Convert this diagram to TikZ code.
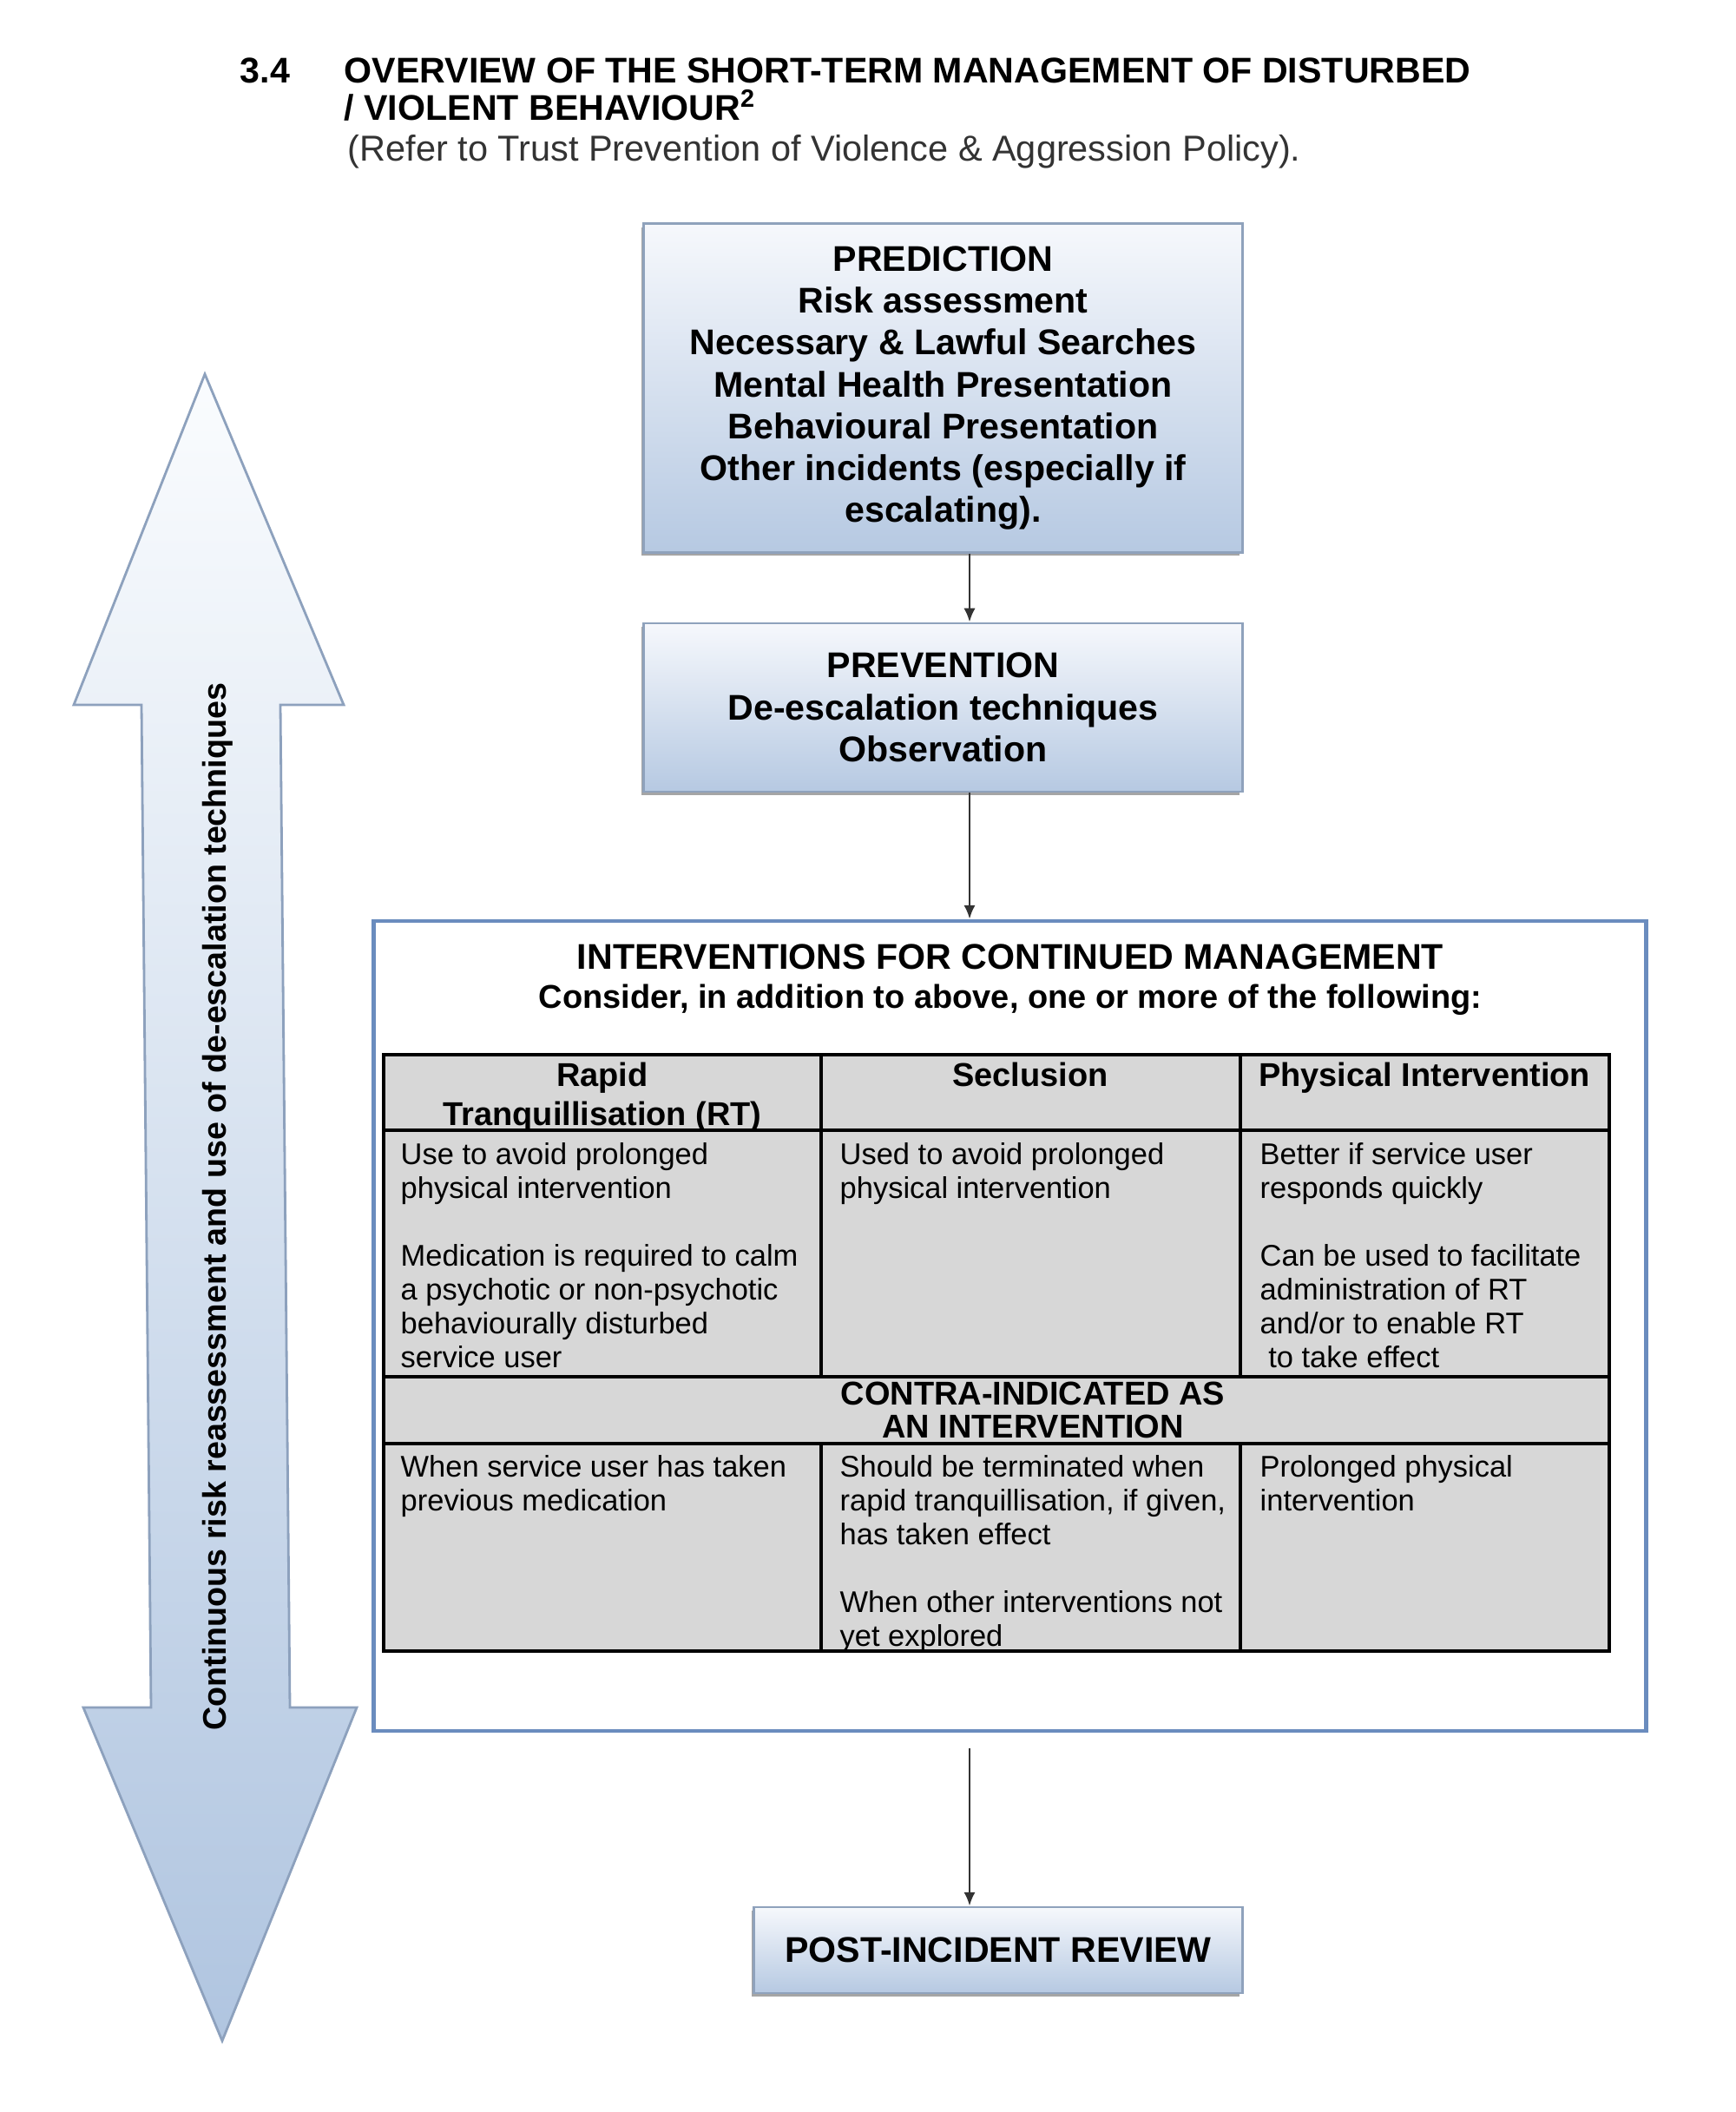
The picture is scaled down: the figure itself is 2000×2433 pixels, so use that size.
\documentclass[tikz,border=0pt]{standalone}
\usepackage{fontspec}
\setmainfont{Liberation Sans}
\usepackage{tikz}
\usetikzlibrary{arrows.meta,shadows}
\definecolor{boxedge}{HTML}{8FA2BC}
\definecolor{boxtop}{HTML}{F6F8FC}
\definecolor{boxbot}{HTML}{B6C9E2}
\definecolor{intedge}{HTML}{6A8CBE}
\definecolor{cellgray}{HTML}{D7D7D7}
\definecolor{arrowedge}{HTML}{8DA1BD}
\definecolor{arrowtop}{HTML}{FAFCFE}
\definecolor{arrowbot}{HTML}{B0C5E0}
\tikzset{
  flowbox/.style={draw=boxedge, line width=0.8pt, top color=boxtop, bottom color=boxbot,
    align=center, inner sep=0pt, font=\fontsize{11.7}{13.7}\selectfont\bfseries,
    drop shadow={shadow xshift=-0.8pt, shadow yshift=-1.2pt, fill=black!50, opacity=0.7}},
  flowarrow/.style={-{Latex[length=4.5pt,width=3.8pt]}, line width=0.7pt, black!80},
  titletext/.style={inner sep=0pt, align=left, font=\fontsize{11.7}{12.2}\selectfont\bfseries},
  headtext/.style={anchor=north, align=center, inner sep=0pt, font=\fontsize{10.8}{12.8}\selectfont\bfseries},
  celltext/.style={anchor=north west, align=left, inner sep=0pt, font=\fontsize{9.8}{11.1}\selectfont},
  gridline/.style={line width=1.1pt, black}
}

\begin{document}
\begin{tikzpicture}[x=0.01cm,y=-0.01cm]
    \path[use as bounding box, fill=white] (0,0) rectangle (2000,2433);
    % heading
    \node[titletext, anchor=west] (secnum) at (276,81) {3.4};
    \node[titletext, anchor=north west] (heading) at (396,66) {OVERVIEW OF THE SHORT-TERM MANAGEMENT OF DISTURBED\\/ VIOLENT BEHAVIOUR\textsuperscript{2}};
    \node[anchor=west, inner sep=0pt, font=\fontsize{11.8}{14}\selectfont, text=black!80] (refer) at (400,175) {(Refer to Trust Prevention of Violence \& Aggression Policy).};

    % side arrow
    \shadedraw[top color=arrowtop, bottom color=arrowbot, draw=arrowedge, line width=0.8pt]
      (236,431) -- (396,812) -- (323,812) -- (334,1967) -- (411,1967) -- (256,2351)
      -- (96,1967) -- (174,1967) -- (163,812) -- (85,812) -- cycle;
    \node[rotate=90, inner sep=0pt, font=\fontsize{10.7}{12}\selectfont\bfseries] (loop) at (251,1390) {Continuous risk reassessment and use of de-escalation techniques};

    % flow boxes
    \coordinate (spine) at (1117,0);
    \node[flowbox, minimum width=6.89cm, minimum height=3.78cm] (predict) at (1086.5,447)
      {PREDICTION\\Risk assessment\\Necessary \& Lawful Searches\\Mental Health Presentation\\Behavioural Presentation\\Other incidents (especially if\\escalating).};
    \node[flowbox, minimum width=6.89cm, minimum height=1.94cm] (prevent) at (1086.5,815)
      {PREVENTION\\De-escalation techniques\\Observation};
    \node[draw=intedge, fill=white, line width=1.2pt, inner sep=0pt, minimum width=14.65cm, minimum height=9.33cm] (interv) at (1163.5,1527.5) {};
    \node[flowbox, minimum width=5.62cm, minimum height=0.99cm] (review) at (1150,2246.5) {POST-INCIDENT REVIEW};

    \draw[flowarrow] (predict.south -| spine) -- (prevent.north -| spine);
    \draw[flowarrow] (prevent.south -| spine) -- (interv.north -| spine);
    \draw[flowarrow, shorten <=5pt] (interv.south -| spine) -- (review.north -| spine);

    % interventions
    \node[inner sep=0pt, font=\fontsize{11.7}{13.7}\selectfont\bfseries] (intertitle) at (1164,1102) {INTERVENTIONS FOR CONTINUED MANAGEMENT};
    \node[inner sep=0pt, font=\fontsize{10.8}{13}\selectfont\bfseries] (consider) at (1164,1152) {Consider, in addition to above, one or more of the following:};

    \fill[cellgray] (442,1215) rectangle (1854,1902);
    \draw[gridline] (442,1215) rectangle (1854,1902);
    \foreach \y in {1302,1586,1663} {\draw[gridline] (442,\y) -- (1854,\y);}
    \foreach \x in {946,1429} {
      \draw[gridline] (\x,1215) -- (\x,1586);
      \draw[gridline] (\x,1663) -- (\x,1902);
    }

    \node[headtext] (hrt) at (694,1223) {Rapid\\Tranquillisation (RT)};
    \node[headtext] (hsecl) at (1187,1223) {Seclusion};
    \node[headtext] (hphys) at (1641,1223) {Physical Intervention};

    \node[celltext] (usert) at (461,1316) {Use to avoid prolonged\\physical intervention\\[11.1pt]Medication is required to calm\\a psychotic or non-psychotic\\behaviourally disturbed\\service user};
    \node[celltext] (usesecl) at (967,1316) {Used to avoid prolonged\\physical intervention};
    \node[celltext] (usephys) at (1451,1316) {Better if service user\\responds quickly\\[11.1pt]Can be used to facilitate\\administration of RT\\and/or to enable RT\\\hspace*{0.28em}to take effect};

    \node[headtext, font=\fontsize{10.8}{10.8}\selectfont\bfseries] (contra) at (1190,1591) {CONTRA-INDICATED AS\\AN INTERVENTION};

    \node[celltext] (nort) at (461,1676) {When service user has taken\\previous medication};
    \node[celltext] (nosecl) at (967,1676) {Should be terminated when\\rapid tranquillisation, if given,\\has taken effect\\[11.1pt]When other interventions not\\yet explored};
    \node[celltext] (nophys) at (1451,1676) {Prolonged physical\\intervention};
\end{tikzpicture}
\end{document}
